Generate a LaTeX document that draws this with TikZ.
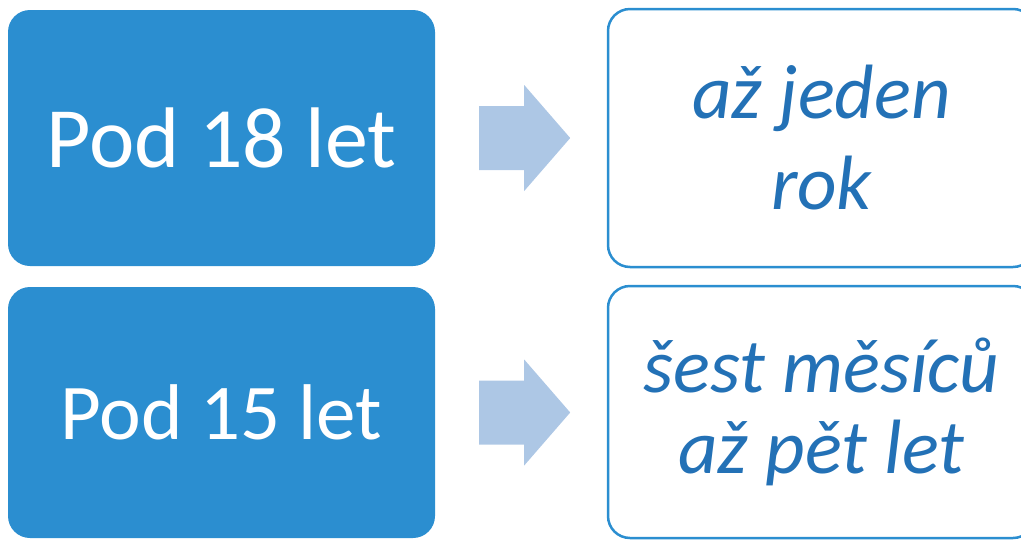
\documentclass[tikz,border=0pt]{standalone}
\usepackage{fontspec}
\setmainfont{Carlito}
\usetikzlibrary{calc}
\definecolor{boxblue}{HTML}{2B8ED0}
\definecolor{textblue}{HTML}{2371B6}
\definecolor{arrowblue}{HTML}{ADC7E5}
\begin{document}
\begin{tikzpicture}[x=1pt,y=-1pt,
  agebox/.style={fill=boxblue, rounded corners=22pt, minimum width=427pt, text=white, inner sep=0pt},
  termbox/.style={draw=boxblue, line width=2.5pt, fill=white, rounded corners=22pt, minimum width=427pt, text=textblue, align=center, inner sep=0pt},
  blockarrow/.style={fill=arrowblue}]
\useasboundingbox (0,0) rectangle (1021,539);
\clip (0,0) rectangle (1021,539);
\def\HW{53};\def\BW{32};\def\HL{46};
% left column
\node[agebox, minimum height=256pt, font=\fontsize{86}{100}\selectfont] (u18) at (221.5,138) {Pod 18 let};
\node[agebox, minimum height=251pt, font=\fontsize{79}{92}\selectfont] (u15) at (221.5,412.5) {Pod 15 let};
% right column
\node[termbox, minimum height=258pt, font=\fontsize{77}{91}\selectfont\itshape] (t18) at (821.5,138) {až jeden\\rok};
\node[termbox, minimum height=252pt, font=\fontsize{77}{81}\selectfont\itshape] (t15) at (821.5,412) {šest měsíců\\až pět let};
% arrows between the columns
\foreach \a/\b in {u18/t18,u15/t15}{
  \coordinate (s) at ($(\a.east)+(44,0)$);
  \fill[blockarrow] (s)++(0,-\BW)--++(45,0)--++(0,-21)--($(s)+(91,0)$)--($(s)+(45,\HW)$)--++(0,-21)--++(-45,0)--cycle;
}
\end{tikzpicture}
\end{document}
